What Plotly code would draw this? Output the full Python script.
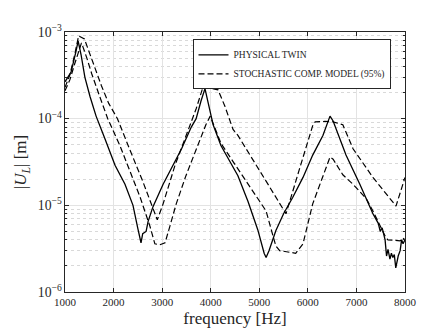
import plotly.graph_objects as go

# physical twin (measured)
twin_freq = [1000, 1125, 1230, 1270, 1330, 1410, 1515, 1640, 1820, 1990, 2030, 2235, 2400, 2500,
             2565, 2600, 2670, 2710, 2810, 3020, 3220, 3400, 3600, 3700, 3800, 3882, 3950, 4050,
             4210, 4460, 4560, 4770, 4970, 5100, 5140, 5200, 5340, 5500, 5690, 5900, 6100, 6310,
             6456, 6520, 6785, 7070, 7340, 7450, 7490, 7530, 7590, 7620, 7650, 7690, 7720, 7750,
             7780, 7810, 7860, 7900, 7930, 7960, 8000]
twin_ul = [2.66e-4, 3.45e-4, 6.1e-4, 7.9e-4, 5.5e-4, 3.0e-4, 1.8e-4, 1.07e-4, 5.9e-5, 3.2e-5, 2.9e-5,
           1.75e-5, 1.0e-5, 5.4e-6, 3.7e-6, 4.7e-6, 5.0e-6, 6.5e-6, 9.6e-6, 1.75e-5, 2.9e-5, 4.5e-5,
           8.0e-5, 1.0e-4, 1.6e-4, 2.22e-4, 1.5e-4, 8.5e-5, 4.9e-5, 2.7e-5, 2.2e-5, 1.1e-5, 5.2e-6,
           2.8e-6, 2.5e-6, 3.0e-6, 5.1e-6, 8.0e-6, 1.24e-5, 2.1e-5, 3.8e-5, 6.4e-5, 1.07e-4, 9.4e-5,
           3.8e-5, 1.75e-5, 8.0e-6, 6.2e-6, 5.0e-6, 5.5e-6, 4.0e-6, 2.6e-6, 3.1e-6, 2.4e-6, 2.8e-6,
           2.5e-6, 2.7e-6, 1.9e-6, 2.6e-6, 3.0e-6, 4.0e-6, 3.6e-6, 4.0e-6]

# stochastic model, upper 95% bound
upper_freq = [1000, 1100, 1200, 1280, 1400, 1500, 1600, 1750, 1900, 2080, 2300, 2600, 2900, 3020,
              3265, 3500, 3700, 3840, 4000, 4150, 4290, 4460, 4560, 5140, 5550, 5825, 6100, 6150,
              6350, 6520, 6720, 6930, 7340, 7815, 8000]
upper_ul = [2.3e-4, 3.2e-4, 5.5e-4, 9.0e-4, 8.3e-4, 5.8e-4, 4.0e-4, 2.4e-4, 1.5e-4, 1.0e-4, 4.9e-5,
            1.9e-5, 6.8e-6, 1.04e-5, 2.9e-5, 6.5e-5, 1.3e-4, 2.3e-4, 2.25e-4, 2.15e-4, 1.4e-4, 7.5e-5,
            6.4e-5, 1.9e-5, 8.0e-6, 2.6e-5, 8.3e-5, 9.2e-5, 9.3e-5, 9.2e-5, 8.5e-5, 4.5e-5, 2.1e-5,
            9.8e-6, 2.1e-5]

# stochastic model, lower 95% bound
lower_freq = [1000, 1100, 1200, 1340, 1450, 1550, 1700, 1880, 2130, 2340, 2545, 2750, 2810, 2850,
              2950, 3060, 3150, 3290, 3490, 3700, 3900, 3990, 4100, 4210, 4460, 5140, 5340, 5420,
              5750, 5900, 6100, 6456, 6520, 6720, 6930, 7200, 7340, 7610, 7650, 7900, 7950, 8000]
lower_ul = [2.1e-4, 2.8e-4, 4.3e-4, 7.5e-4, 5.0e-4, 3.3e-4, 1.9e-4, 1.0e-4, 4.9e-5, 2.4e-5, 1.25e-5,
            5.7e-6, 4.4e-6, 3.6e-6, 3.5e-6, 3.7e-6, 5.5e-6, 1.04e-5, 2.2e-5, 4.5e-5, 8.5e-5, 1.07e-4,
            7.5e-5, 5.2e-5, 3.2e-5, 8.6e-6, 3.4e-6, 3.0e-6, 2.8e-6, 3.6e-6, 1.04e-5, 3.6e-5, 3.4e-5,
            2.25e-5, 1.75e-5, 1.2e-5, 8.6e-6, 4.2e-6, 4.0e-6, 3.9e-6, 4.2e-6, 4.0e-6]

serif = "Liberation Serif, DejaVu Serif, serif"
dashes = "6px,3px"

fig = go.Figure()
fig.add_trace(go.Scatter(x=twin_freq, y=twin_ul, mode="lines", name="PHYSICAL TWIN",
                         line=dict(color="black", width=1.3)))
fig.add_trace(go.Scatter(x=upper_freq, y=upper_ul, mode="lines", name="STOCHASTIC COMP. MODEL (95%)",
                         legendgroup="model", line=dict(color="black", width=1.2, dash=dashes)))
fig.add_trace(go.Scatter(x=lower_freq, y=lower_ul, mode="lines", showlegend=False,
                         legendgroup="model", line=dict(color="black", width=1.2, dash=dashes)))

axis_common = dict(
    showline=True, linecolor="#262626", linewidth=1, mirror="allticks",
    ticks="inside", ticklen=4, tickcolor="#262626",
    showgrid=True, gridcolor="#e3e3e3", gridwidth=1,
    zeroline=False, tickfont=dict(family=serif, size=11, color="#262626"),
)

fig.update_xaxes(range=[1000, 8000], dtick=1000, tick0=1000,
                 title=dict(text="frequency [Hz]", font=dict(family=serif, size=17, color="#262626"),
                            standoff=4),
                 **axis_common)
fig.update_yaxes(type="log", range=[-6, -3], dtick=1, exponentformat="power",
                 minor=dict(dtick="D1", showgrid=True, gridcolor="#d9d9d9", griddash="dot",
                            ticks="inside", ticklen=2, tickcolor="#262626"),
                 title=dict(text="|<i>U<sub>L</sub></i>| [m]",
                            font=dict(family=serif, size=17, color="#262626"), standoff=6),
                 **axis_common)

fig.update_layout(
    width=438, height=328,
    margin=dict(l=57, r=41, t=24, b=38),
    paper_bgcolor="white", plot_bgcolor="white",
    legend=dict(x=0.375, y=0.972, xanchor="left", yanchor="top",
                bgcolor="white", bordercolor="#262626", borderwidth=1,
                font=dict(family=serif, size=9.5, color="#262626"),
                itemwidth=30, tracegroupgap=0),
)

fig.write_html("out.html")
